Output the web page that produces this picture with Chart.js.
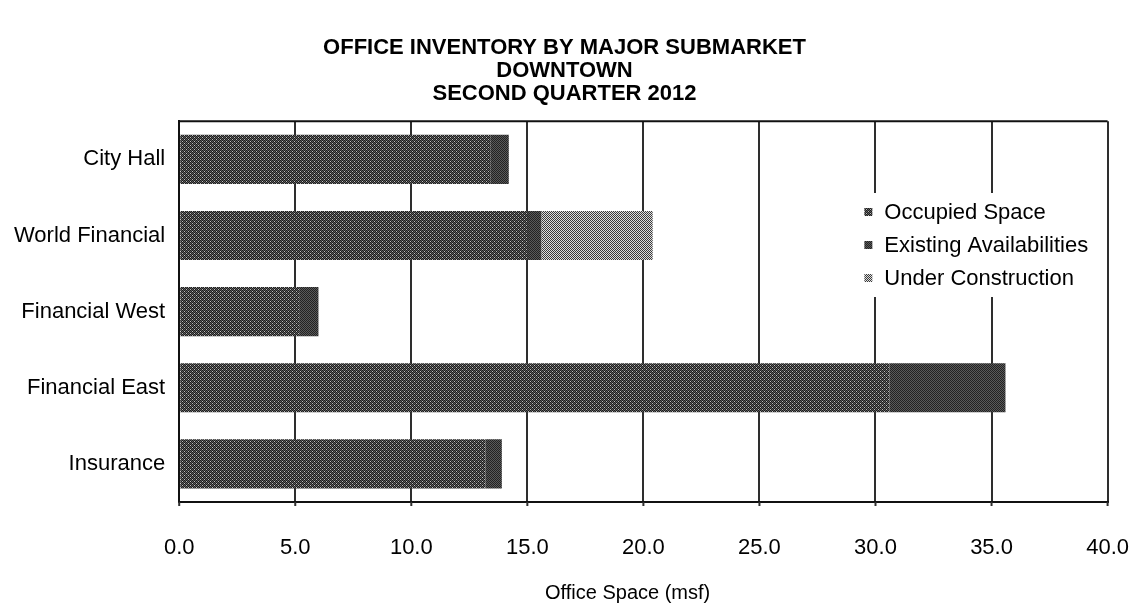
<!DOCTYPE html>
<html>
<head>
<meta charset="utf-8">
<script src="https://cdn.jsdelivr.net/npm/chart.js@4/dist/chart.umd.min.js"></script>
<style>
  html, body { margin: 0; padding: 0; background: #fff; }
  #box { width: 1139px; height: 603px; }
</style>
</head>
<body>
<div id="box"><canvas id="inventory"></canvas></div>
<script>
var submarkets = ['City Hall', 'World Financial', 'Financial West', 'Financial East', 'Insurance']
var occupied = [13.4, 15.0, 5.2, 30.6, 13.2]
var existing = [0.8, 0.6, 0.8, 5.0, 0.7]
var underConstruction = [0, 4.8, 0, 0, 0]
var seriesNames = ['Occupied Space', 'Existing Availabilities', 'Under Construction']
var titleLines = ['OFFICE INVENTORY BY MAJOR SUBMARKET', 'DOWNTOWN', 'SECOND QUARTER 2012']
var axisTitle = 'Office Space (msf)'

var FONT = '"Liberation Sans", Arial, sans-serif'

// dithered fills like the old print-style chart
function makePattern(tile) {
    var n = tile.length
    var c = document.createElement('canvas')
    c.width = n
    c.height = n
    var g = c.getContext('2d')
    for (var r = 0; r < n; r++) {
        for (var k = 0; k < n; k++) {
            g.fillStyle = tile[r][k]
            g.fillRect(k, r, 1, 1)
        }
    }
    return g.createPattern(c, 'repeat')
}
var a = '#1c1c1c', b = '#5e5e5e', w = '#bdbdbd'
var occFill = makePattern([
    [a, b, a, b],
    [b, a, w, a],
    [a, b, a, b],
    [w, a, b, a]
])
var d = '#222222', e = '#5a5a5a'
var exFill = makePattern([
    [d, e, d, e],
    [e, d, e, d],
    [d, e, d, e],
    [e, d, e, d]
])
var l1 = '#3a3a3a', l2 = '#dedede'
var ucFill = makePattern([
    [l1, l2],
    [l2, l1]
])
var fills = [occFill, exFill, ucFill]

// top frame line, legend inside the plot on a white patch, axis title
var extras = {
    id: 'extras',
    afterDraw: function (chart) {
        var ctx = chart.ctx
        var area = chart.chartArea
        var span = area.right - area.left
        ctx.save()
        ctx.strokeStyle = '#111'
        ctx.lineWidth = 2
        ctx.beginPath()
        ctx.moveTo(area.left, area.top)
        ctx.lineTo(area.right, area.top)
        ctx.stroke()

        var x0 = area.left + span * 0.738
        ctx.fillStyle = '#fff'
        ctx.fillRect(x0 - 10, 193, 244, 104)
        ctx.font = '22px ' + FONT
        ctx.textBaseline = 'middle'
        ctx.textAlign = 'left'
        for (var i = 0; i < seriesNames.length; i++) {
            var cy = 212 + i * 33
            ctx.fillStyle = fills[i]
            ctx.fillRect(x0, cy - 4, 8, 8)
            ctx.fillStyle = '#000'
            ctx.fillText(seriesNames[i], x0 + 20, cy + 1)
        }

        ctx.font = '20px ' + FONT
        ctx.textAlign = 'center'
        ctx.fillText(axisTitle, area.left + span * 0.483, 593)

        // short tick marks under the axis line
        var xs = chart.scales.x
        ctx.strokeStyle = '#2e2e2e'
        ctx.lineWidth = 2
        xs.ticks.forEach(function (t) {
            var px = xs.getPixelForValue(t.value)
            ctx.beginPath()
            ctx.moveTo(px, area.bottom)
            ctx.lineTo(px, area.bottom + 4)
            ctx.stroke()
        })
        ctx.restore()
    }
}

var data = {
    labels: submarkets,
    datasets: [
        { label: seriesNames[0], data: occupied, backgroundColor: occFill },
        { label: seriesNames[1], data: existing, backgroundColor: exFill },
        { label: seriesNames[2], data: underConstruction, backgroundColor: ucFill }
    ]
}

var chart1 = new Chart(document.getElementById('inventory').getContext('2d'), {
    type: 'bar',
    data: data,
    plugins: [extras],
    options: {
        indexAxis: 'y',
        responsive: true,
        maintainAspectRatio: false,
        animation: false,
        datasets: {
            bar: {
                categoryPercentage: 1,
                barPercentage: 0.645,
                borderWidth: 0
            }
        },
        layout: {
            padding: { left: 0, right: 10, top: 0, bottom: 34 }
        },
        plugins: {
            legend: { display: false },
            tooltip: { enabled: false },
            title: {
                display: true,
                text: titleLines,
                color: '#000',
                font: { family: FONT, size: 22, weight: 'bold', lineHeight: 1.05 },
                padding: { top: 36, bottom: 16 }
            }
        },
        scales: {
            x: {
                stacked: true,
                min: 0,
                max: 40,
                ticks: {
                    stepSize: 5,
                    color: '#000',
                    padding: 10,
                    font: { family: FONT, size: 22, lineHeight: 1 },
                    callback: function (v) { return v.toFixed(1) }
                },
                grid: {
                    color: '#2e2e2e',
                    lineWidth: 2,
                    drawTicks: true,
                    tickLength: 25,
                    tickColor: 'rgba(0,0,0,0)'
                },
                border: { display: true, color: '#111', width: 2 },
                title: { display: false }
            },
            y: {
                stacked: true,
                ticks: {
                    color: '#000',
                    padding: 14,
                    font: { family: FONT, size: 22 }
                },
                grid: { display: false, drawTicks: false },
                border: { display: true, color: '#111', width: 2 }
            }
        }
    }
})
</script>
</body>
</html>
